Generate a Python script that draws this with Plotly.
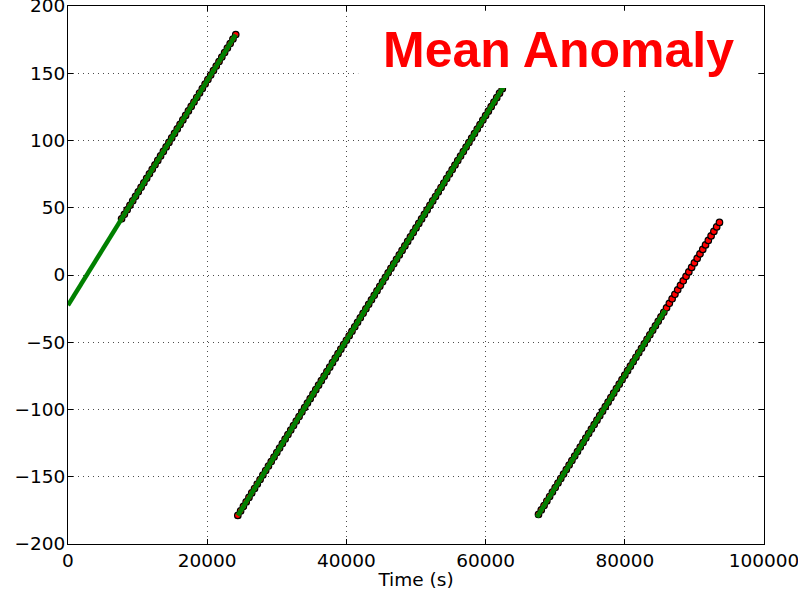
import plotly.graph_objects as go

# ---- data ----
# Red series (reference solution, circles)
red_time_seg1 = [7700, 8100, 8500, 8900, 9300, 9700, 10100, 10500, 10900, 11300,
                 11700, 12100, 12500, 12900, 13300, 13700, 14100, 14500, 14900, 15300,
                 15700, 16100, 16500, 16900, 17300, 17700, 18100, 18500, 18900, 19300,
                 19700, 20100, 20500, 20900, 21300, 21700, 22100, 22500, 22900, 23300,
                 23700, 24100]
red_deg_seg1 = [41.80, 45.14, 48.48, 51.82, 55.16, 58.50, 61.84, 65.18, 68.52, 71.86,
                75.20, 78.54, 81.88, 85.22, 88.56, 91.90, 95.24, 98.58, 101.92, 105.26,
                108.60, 111.94, 115.28, 118.62, 121.96, 125.30, 128.64, 131.98, 135.32, 138.66,
                142.00, 145.34, 148.68, 152.02, 155.36, 158.70, 162.04, 165.38, 168.72, 172.06,
                175.40, 178.74]

red_time_seg2 = [24400, 24800, 25200, 25600, 26000, 26400, 26800, 27200, 27600, 28000,
                 28400, 28800, 29200, 29600, 30000, 30400, 30800, 31200, 31600, 32000,
                 32400, 32800, 33200, 33600, 34000, 34400, 34800, 35200, 35600, 36000,
                 36400, 36800, 37200, 37600, 38000, 38400, 38800, 39200, 39600, 40000,
                 40400, 40800, 41200, 41600, 42000, 42400, 42800, 43200, 43600, 44000,
                 44400, 44800, 45200, 45600, 46000, 46400, 46800, 47200, 47600, 48000,
                 48400, 48800, 49200, 49600, 50000, 50400, 50800, 51200, 51600, 52000,
                 52400, 52800, 53200, 53600, 54000, 54400, 54800, 55200, 55600, 56000,
                 56400, 56800, 57200, 57600, 58000, 58400, 58800, 59200, 59600, 60000,
                 60400, 60800, 61200, 61600, 62000, 62400, 62800, 63200, 63600, 64000,
                 64400, 64800, 65200, 65600, 66000, 66400, 66800, 67200]
red_deg_seg2 = [-178.76, -175.42, -172.08, -168.74, -165.40, -162.06, -158.72, -155.38, -152.04, -148.70,
                -145.36, -142.02, -138.68, -135.34, -132.00, -128.66, -125.32, -121.98, -118.64, -115.30,
                -111.96, -108.62, -105.28, -101.94, -98.60, -95.26, -91.92, -88.58, -85.24, -81.90,
                -78.56, -75.22, -71.88, -68.54, -65.20, -61.86, -58.52, -55.18, -51.84, -48.50,
                -45.16, -41.82, -38.48, -35.14, -31.80, -28.46, -25.12, -21.78, -18.44, -15.10,
                -11.76, -8.42, -5.08, -1.74, 1.60, 4.94, 8.28, 11.62, 14.96, 18.30,
                21.64, 24.98, 28.32, 31.66, 35.00, 38.34, 41.68, 45.02, 48.36, 51.70,
                55.04, 58.38, 61.72, 65.06, 68.40, 71.74, 75.08, 78.42, 81.76, 85.10,
                88.44, 91.78, 95.12, 98.46, 101.80, 105.14, 108.48, 111.82, 115.16, 118.50,
                121.84, 125.18, 128.52, 131.86, 135.20, 138.54, 141.88, 145.22, 148.56, 151.90,
                155.24, 158.58, 161.92, 165.26, 168.60, 171.94, 175.28, 178.62]

red_time_seg3 = [67600, 68000, 68400, 68800, 69200, 69600, 70000, 70400, 70800, 71200,
                 71600, 72000, 72400, 72800, 73200, 73600, 74000, 74400, 74800, 75200,
                 75600, 76000, 76400, 76800, 77200, 77600, 78000, 78400, 78800, 79200,
                 79600, 80000, 80400, 80800, 81200, 81600, 82000, 82400, 82800, 83200,
                 83600, 84000, 84400, 84800, 85200, 85600, 86000, 86400, 86800, 87200,
                 87600, 88000, 88400, 88800, 89200, 89600, 90000, 90400, 90800, 91200,
                 91600, 92000, 92400, 92800, 93200, 93600]
red_deg_seg3 = [-178.04, -174.70, -171.36, -168.02, -164.68, -161.34, -158.00, -154.66, -151.32, -147.98,
                -144.64, -141.30, -137.96, -134.62, -131.28, -127.94, -124.60, -121.26, -117.92, -114.58,
                -111.24, -107.90, -104.56, -101.22, -97.88, -94.54, -91.20, -87.86, -84.52, -81.18,
                -77.84, -74.50, -71.16, -67.82, -64.48, -61.14, -57.80, -54.46, -51.12, -47.78,
                -44.44, -41.10, -37.76, -34.42, -31.08, -27.74, -24.40, -21.06, -17.72, -14.38,
                -11.04, -7.70, -4.36, -1.02, 2.32, 5.66, 9.00, 12.34, 15.68, 19.02,
                22.36, 25.70, 29.04, 32.38, 35.72, 39.06]

# Green series (estimate, drawn as a dense dotted track -> line through read vertices)
green_time = [0, 24100, None, 24400, 67200, None, 67380, 85800]
green_deg = [-22.5, 178.7, None, -178.8, 178.6, None, -180.0, -26.1]

x_ticks = [0, 20000, 40000, 60000, 80000, 100000]
y_ticks = [-200, -150, -100, -50, 0, 50, 100, 150, 200]
title_text = "Mean Anomaly"
x_title = "Time (s)"

# ---- figure ----
red_time = red_time_seg1 + [None] + red_time_seg2 + [None] + red_time_seg3
red_deg = red_deg_seg1 + [None] + red_deg_seg2 + [None] + red_deg_seg3

fig = go.Figure()
fig.add_trace(go.Scatter(
    x=red_time, y=red_deg, mode="markers",
    marker=dict(color="#ff0000", size=6.5, line=dict(color="black", width=1.2)),
    hoverinfo="skip", showlegend=False))
fig.add_trace(go.Scatter(
    x=green_time, y=green_deg, mode="lines",
    line=dict(color="#008000", width=4.5),
    connectgaps=False, hoverinfo="skip", showlegend=False))

tick_font = dict(family="DejaVu Sans", size=18.5, color="black")
axis_common = dict(
    showline=True, linecolor="black", linewidth=1, mirror="allticks",
    ticks="inside", ticklen=5, tickwidth=1, tickcolor="black",
    showgrid=True, gridcolor="rgba(0,0,0,0.7)", gridwidth=1, griddash="1px,4px",
    zeroline=False, tickfont=tick_font, automargin=False,
    ticklabeloverflow="allow",
)

fig.update_xaxes(range=[0, 100000], tickvals=x_ticks, tickformat="d",
                 title=dict(text=x_title, font=tick_font, standoff=2), **axis_common)
fig.update_yaxes(range=[-200, 200], tickvals=y_ticks, ticklabelstandoff=-2, **axis_common)

# white box behind the title text
fig.add_shape(type="rect", xref="x", yref="y", x0=41700, x1=99000, y0=139, y1=196.5,
              fillcolor="white", line=dict(width=0), layer="above")
fig.add_annotation(x=70500, y=167.5, xref="x", yref="y", text="<b>" + title_text + "</b>",
                   showarrow=False, xanchor="center", yanchor="middle",
                   font=dict(family="Liberation Sans", size=50, color="#ff0000"))

fig.update_layout(
    width=798, height=591,
    margin=dict(l=68, r=34, t=6, b=47),
    plot_bgcolor="white", paper_bgcolor="white",
    showlegend=False,
)

fig.write_html("out.html")
